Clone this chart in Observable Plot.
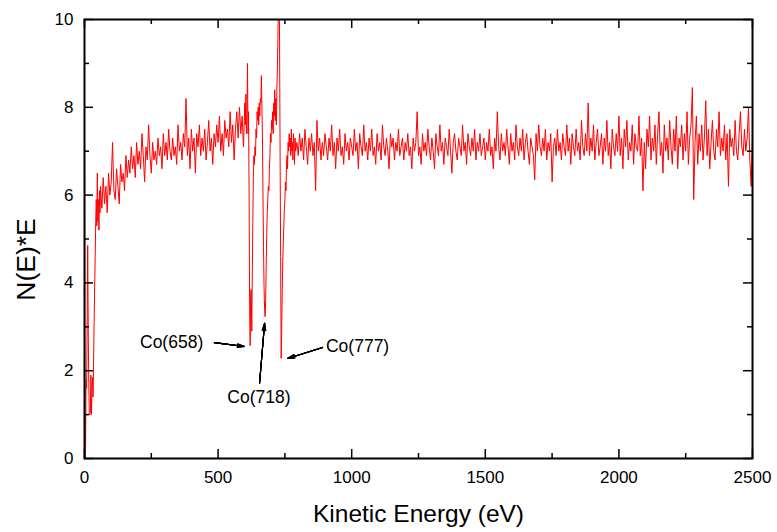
<!DOCTYPE html>
<html>
<head>
<meta charset="utf-8">
<script src="https://cdn.jsdelivr.net/npm/d3@7"></script>
<script src="https://cdn.jsdelivr.net/npm/@observablehq/plot@0.6"></script>
<style>
  html, body { margin: 0; padding: 0; background: #fff; }
</style>
</head>
<body>
<div id="chart"></div>
<script>
// ---- Data ----
const seg0Start = 0, seg0Step = 2;
const seg0Values = [7.4, 0.0, 0.3, 1.8, 1.6, 3.2, 4.85, 2.9, 1.7, 1.0, 1.0, 1.05, 1.9, 1.0, 1.6, 1.85,
  1.4, 2.2, 3.1, 3.9, 4.6, 5.4, 5.9, 5.3, 6.5, 5.4, 5.9, 5.2, 6.1, 5.6, 6.2];

const seg1Start = 65, seg1Step = 5;
const seg1Values = [5.7, 6.4, 5.8, 6.2, 5.6, 6.5, 6.0, 6.3, 7.2, 6.1, 5.9, 6.6, 6.2, 5.8, 6.7, 6.3,
  6.5, 6.1, 6.9, 6.4, 6.8, 6.5, 7.1, 6.6, 6.9, 6.4, 7.2, 6.7, 7.0, 6.6, 7.4, 6.9, 6.3, 7.1, 6.8, 7.6,
  6.9, 6.5, 7.2, 6.8, 7.0, 6.7, 7.3, 6.9, 7.1, 6.6, 7.4, 6.9, 7.2, 6.8, 7.5, 7.0, 6.8, 7.3, 6.9, 7.1,
  6.7, 7.6, 7.0, 7.2, 6.8, 7.4, 7.1, 8.2, 6.9, 7.3, 6.6, 7.5, 7.0, 7.3, 6.5, 7.4, 7.1, 7.6, 6.9, 7.3,
  7.0, 7.5, 6.8, 7.2, 7.7, 7.0, 7.3, 6.7, 7.4, 7.1, 7.6, 7.2, 7.8, 7.0, 7.4, 6.9, 7.7, 7.3, 7.5, 7.1,
  7.9, 7.2, 7.6, 6.8, 7.5, 7.9, 7.3, 8.0, 7.4, 7.8, 7.1, 8.1];

const seg2Start = 602, seg2Step = 2;
const seg2Values = [7.6, 8.3, 7.4, 7.8, 9.0, 7.4, 7.9, 6.0, 3.5, 2.57, 3.8, 3.85, 2.9, 4.2, 5.4, 6.4,
  6.9, 6.7, 7.1, 6.9, 7.5, 7.3, 7.9, 7.7, 8.0, 7.6, 8.1, 7.8, 8.2, 8.1, 8.72, 8.0, 7.3, 6.0, 4.8, 3.9,
  3.4, 3.23, 3.6, 4.4, 5.1, 5.6, 5.9, 6.2, 6.1, 6.6, 6.9, 7.4, 7.2, 7.7, 7.5, 7.9, 7.4, 8.1, 7.8, 8.4,
  7.7, 8.2, 7.6, 8.4, 8.9, 9.6, 10.8, 11.5, 9.5, 7.0, 4.6, 2.28, 2.9, 3.8, 4.5, 4.9, 5.3, 5.7, 5.9,
  6.3, 6.1, 6.7, 6.9, 6.6, 7.2, 7.0, 7.4, 7.1, 7.3, 6.9, 7.5, 7.0, 7.2, 6.8, 7.4, 7.1, 6.7, 7.3, 7.0];

const seg3Start = 795, seg3Step = 5;
const seg3Values = [
  7.2, 6.9, 7.4, 7.0, 7.3, 6.8, 7.5, 7.1, 6.7, 7.3, 7.0, 7.4, 6.9, 7.2, 6.1, 7.7, 7.0, 7.3, 6.8, 7.2,
  6.9, 7.4, 7.1, 6.8, 7.3, 7.0, 7.6, 6.9, 7.2, 6.6, 7.3, 7.0, 7.5, 6.9, 7.1, 6.7, 7.4, 7.0, 7.2, 6.8,
  7.3, 7.1, 6.9, 7.5, 7.0, 7.2, 6.6, 7.4, 7.1, 6.9, 7.6, 7.0, 7.2, 6.8, 7.3, 7.0, 7.5, 6.9, 7.1, 6.7,
  7.4, 7.0, 7.2, 6.8, 7.6, 7.1, 6.9, 7.3, 7.0, 6.6, 7.4, 7.1, 7.3, 6.8, 7.2, 7.0, 7.5, 6.9, 7.1, 7.3,
  6.8, 7.2, 7.0, 7.4, 6.9, 7.1, 6.6, 7.3, 7.0, 7.2, 7.9, 6.9, 7.1, 6.7, 7.4, 7.0, 7.2, 6.9, 7.5, 7.1,
  6.8, 7.3, 7.0, 6.6, 7.4, 7.1, 6.9, 7.6, 7.0, 7.2, 6.7, 7.3, 7.1, 6.9, 7.5, 7.0, 6.5, 7.2, 7.4, 7.0,
  6.8, 7.3, 7.1, 6.9, 7.6, 7.0, 7.2, 6.7, 7.4, 7.1, 6.9, 7.3, 7.0, 7.5, 6.8, 7.2, 7.0, 7.4, 6.9, 7.1,
  7.3, 6.8, 7.2, 7.0, 7.5, 6.9, 7.1, 6.6, 7.3, 7.0, 7.9, 7.1, 6.8, 7.4, 7.0, 7.2, 6.9, 7.5, 7.1, 6.7,
  7.4, 7.0, 7.2, 6.8, 7.6, 7.1, 6.9, 7.3, 7.0, 7.5, 6.8, 7.2, 7.4, 7.0, 6.7, 7.3, 7.1, 6.9, 6.35, 7.4,
  7.0, 7.6, 7.1, 6.9, 7.3, 7.0, 7.5, 6.8, 7.2, 7.0, 7.4, 6.3, 7.1, 7.3, 6.9, 7.5, 7.0, 7.2, 6.8, 7.4,
  7.1, 6.9, 7.6, 7.0, 7.3, 6.7, 7.4, 7.1, 6.9, 7.5, 7.0, 7.2, 6.8, 7.7, 7.1, 6.9, 7.4, 7.0, 8.1, 6.9,
  7.3, 7.0, 7.6, 6.8, 7.2, 7.5, 6.9, 7.1, 7.4, 6.7, 7.3, 7.0, 7.7, 6.9, 7.2, 6.6, 7.5, 7.1, 6.9, 7.4,
  7.0, 7.8, 6.9, 7.3, 6.6, 7.5, 7.1, 7.7, 6.8, 7.2, 7.0, 7.6, 6.7, 7.4, 7.1, 7.0, 7.8, 6.9, 7.3, 6.1,
  7.2, 6.6, 7.5, 7.1, 7.8, 6.8, 7.3, 7.0, 7.6, 6.7, 7.4, 7.9, 6.9, 7.2, 6.5, 7.6, 7.0, 7.3, 6.8, 7.7,
  7.1, 6.7, 7.5, 7.0, 7.8, 6.6, 7.3, 7.1, 7.6, 6.8, 7.4, 7.0, 7.9, 6.7, 7.3, 7.6, 8.45, 5.9, 7.2, 7.8,
  6.7, 7.4, 7.0, 7.6, 6.8, 7.3, 8.15, 6.9, 7.5, 6.6, 7.2, 7.7, 7.0, 6.8, 7.5, 7.1, 7.9, 6.9, 7.3, 7.0,
  7.6, 6.8, 7.4, 6.2, 7.5, 7.1, 7.3, 6.9, 7.7, 7.0, 6.8, 7.4, 7.9, 7.1, 6.9, 7.5, 7.0, 7.3, 8.0, 6.8,
  6.2, 7.4];

// Ticks
const xMajor = [0, 500, 1000, 1500, 2000, 2500];
const xMinor = [250, 750, 1250, 1750, 2250];
const yMajor = [0, 2, 4, 6, 8, 10];
const yMinor = [1, 3, 5, 7, 9];

// Annotations
const labelTexts = ["Co(658)", "Co(718)", "Co(777)"];
const labelE = [326, 653, 1022];
const labelV = [2.64, 1.39, 2.55];
const arrowFromE = [486, 655, 891];
const arrowFromV = [2.64, 1.71, 2.53];
const arrowToE = [599, 674, 760];
const arrowToV = [2.55, 3.08, 2.28];

const xTitle = "Kinetic Energy (eV)";
const yTitle = "N(E)*E";

// ---- Build tables ----
const spectrum = [];
for (const [start, step, vals] of [[seg0Start, seg0Step, seg0Values], [seg1Start, seg1Step, seg1Values],
                                   [seg2Start, seg2Step, seg2Values], [seg3Start, seg3Step, seg3Values]]) {
  vals.forEach((v, i) => spectrum.push({e: start + i * step, v}));
}
const labels = labelTexts.map((t, i) => ({t, e: labelE[i], v: labelV[i]}));
const arrows = labelTexts.map((t, i) => ({x1: arrowFromE[i], y1: arrowFromV[i], x2: arrowToE[i], y2: arrowToV[i]}));

// ---- Layout ----
const W = 777, H = 532, ML = 84, MR = 25, MT = 19, MB = 74;
const FW = W - ML - MR, FH = H - MT - MB;
const MAJ = 9, MIN = 5;
const tickStyle = {stroke: "black", strokeWidth: 1.5};

// inward ticks drawn as short rules hugging each side of the frame
const inwardTicks = [
  [xMajor, MAJ], [xMinor, MIN]
].flatMap(([t, len]) => [
  Plot.ruleX(t, {x: d => d, insetTop: FH - len, ...tickStyle}),
  Plot.ruleX(t, {x: d => d, insetBottom: FH - len, ...tickStyle})
]).concat([
  [yMajor, MAJ], [yMinor, MIN]
].flatMap(([t, len]) => [
  Plot.ruleY(t, {y: d => d, insetRight: FW - len, ...tickStyle}),
  Plot.ruleY(t, {y: d => d, insetLeft: FW - len, ...tickStyle})
]));

const arrowMarks = [1, 6, 12, 18, 24, 30].map(a =>
  Plot.arrow(arrows, {x1: "x1", y1: "y1", x2: "x2", y2: "y2", stroke: "black",
    strokeWidth: 1.1, headLength: 10, headAngle: a}));

const chart = Plot.plot({
  width: W,
  height: H,
  marginLeft: ML,
  marginRight: MR,
  marginTop: MT,
  marginBottom: MB,
  style: {fontFamily: "'Liberation Sans', Arial, Helvetica, sans-serif", background: "white", color: "black"},
  x: {domain: [0, 2500]},
  y: {domain: [0, 10]},
  marks: [
    Plot.line(spectrum, {x: "e", y: "v", stroke: "#ff0000", strokeWidth: 1, clip: true}),
    ...inwardTicks,
    Plot.frame({stroke: "black", strokeWidth: 2}),
    // tick labels
    Plot.axisX({ticks: xMajor, anchor: "bottom", tickSize: 0, tickPadding: 12, fontSize: 17,
      label: null, tickFormat: d => String(d)}),
    Plot.axisY({ticks: yMajor, anchor: "left", tickSize: 0, tickPadding: 11, fontSize: 17,
      label: null, tickFormat: d => String(d)}),
    // axis titles
    Plot.text([xTitle], {frameAnchor: "bottom", textAnchor: "middle", lineAnchor: "middle",
      dy: 56, fontSize: 24.5, fill: "black"}),
    Plot.text([yTitle], {frameAnchor: "left", textAnchor: "middle", lineAnchor: "middle",
      dx: -58, dy: 20.5, rotate: -90, fontSize: 26.5, fill: "black"}),
    // annotations
    Plot.text(labels, {x: "e", y: "v", text: "t", fontSize: 17.5, fill: "black"}),
    ...arrowMarks
  ]
});
document.getElementById("chart").appendChild(chart);
</script>
</body>
</html>
